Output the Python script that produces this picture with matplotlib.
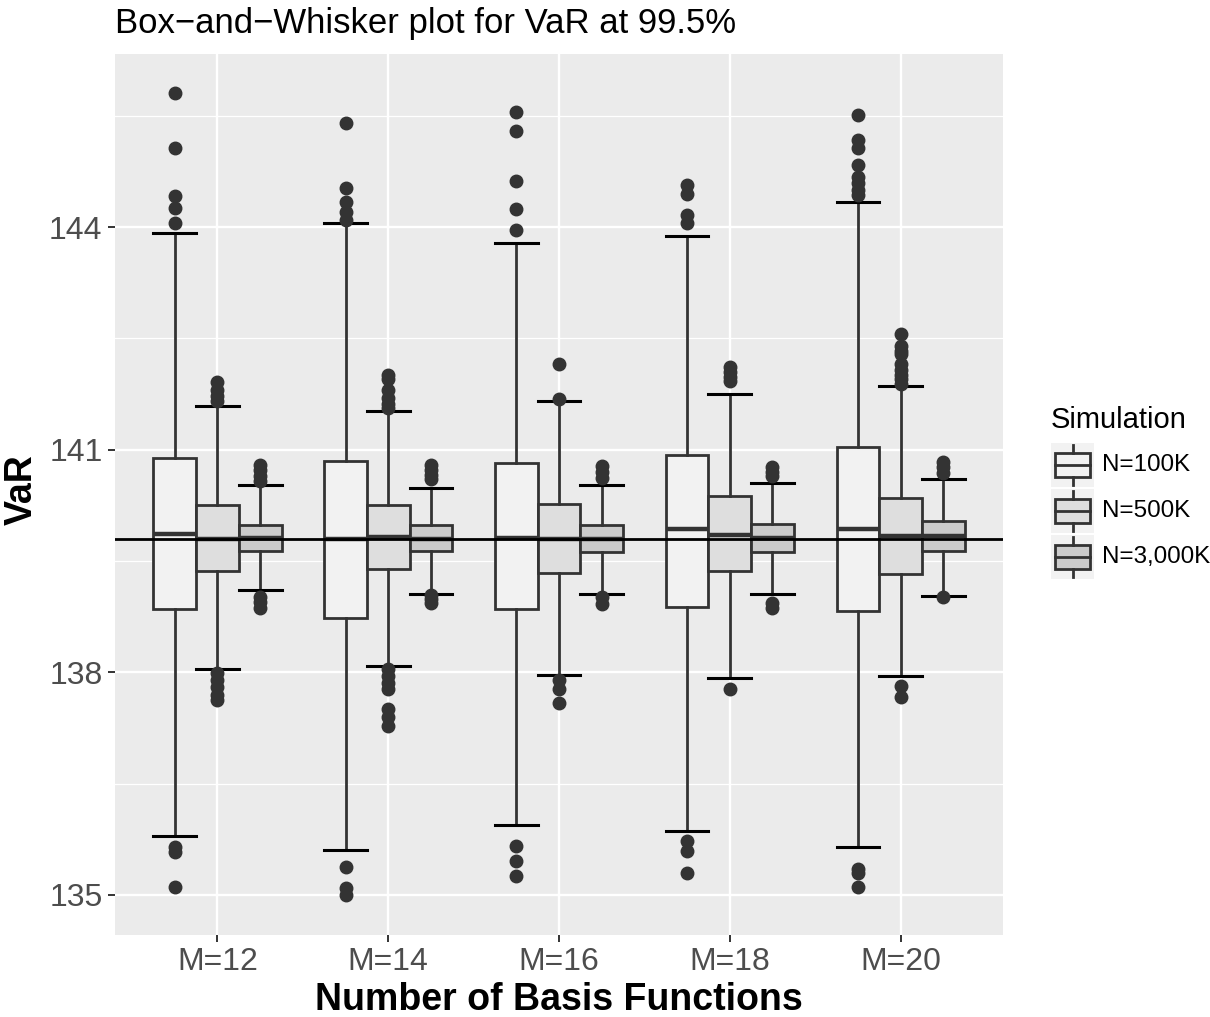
import matplotlib
matplotlib.use("Agg")
import matplotlib.pyplot as plt
from matplotlib.patches import Rectangle
from matplotlib.ticker import MultipleLocator

plt.rcParams["font.family"] = ["Liberation Sans", "DejaVu Sans"]

# data
groups = ["M=12", "M=14", "M=16", "M=18", "M=20"]
sims = ["N=100K", "N=500K", "N=3,000K"]
fills = ["#F2F2F2", "#DEDEDE", "#CBCBCB"]
ref_var = 139.80

q1_100k = [138.85, 138.73, 138.85, 138.88, 138.82]
med_100k = [139.87, 139.79, 139.81, 139.93, 139.93]
q3_100k = [140.89, 140.85, 140.82, 140.93, 141.03]
lo_100k = [135.79, 135.60, 135.94, 135.86, 135.65]
hi_100k = [143.92, 144.06, 143.78, 143.88, 144.34]
fliers_100k = [
    [145.80, 145.06, 144.42, 144.25, 144.05, 135.65, 135.58, 135.11],
    [145.40, 144.53, 144.34, 144.20, 144.09, 135.38, 135.09, 135.00],
    [145.55, 145.30, 144.62, 144.24, 143.96, 135.66, 135.46, 135.25],
    [144.57, 144.45, 144.16, 144.05, 135.73, 135.59, 135.30],
    [145.51, 145.17, 145.06, 144.84, 144.68, 144.59, 144.50, 144.43,
     135.35, 135.29, 135.11],
]

q1_500k = [139.36, 139.39, 139.34, 139.36, 139.32]
med_500k = [139.80, 139.83, 139.80, 139.85, 139.84]
q3_500k = [140.26, 140.25, 140.27, 140.37, 140.35]
lo_500k = [138.04, 138.08, 137.96, 137.92, 137.95]
hi_500k = [141.59, 141.52, 141.66, 141.75, 141.86]
fliers_500k = [
    [141.91, 141.80, 141.72, 141.66, 137.99, 137.90, 137.80, 137.70, 137.63],
    [142.00, 141.95, 141.80, 141.70, 141.62, 141.56,
     138.05, 137.95, 137.85, 137.78, 137.51, 137.40, 137.28],
    [142.15, 141.68, 137.89, 137.78, 137.59],
    [142.11, 142.05, 141.98, 141.93, 137.77],
    [142.56, 142.40, 142.33, 142.29, 142.16, 142.08, 142.00, 141.95, 141.89,
     137.81, 137.67],
]

q1_3000k = [139.63, 139.63, 139.62, 139.62, 139.64]
med_3000k = [139.81, 139.79, 139.80, 139.81, 139.84]
q3_3000k = [139.99, 139.99, 139.99, 140.00, 140.04]
lo_3000k = [139.11, 139.06, 139.06, 139.05, 139.03]
hi_3000k = [140.53, 140.48, 140.52, 140.55, 140.61]
fliers_3000k = [
    [140.80, 140.72, 140.65, 140.58, 139.02, 138.95, 138.87],
    [140.80, 140.72, 140.66, 140.60, 139.04, 138.99, 138.94],
    [140.78, 140.70, 140.62, 139.01, 138.92],
    [140.76, 140.70, 140.65, 138.94, 138.87],
    [140.83, 140.76, 140.69, 139.01],
]

series = [
    (q1_100k, med_100k, q3_100k, lo_100k, hi_100k, fliers_100k),
    (q1_500k, med_500k, q3_500k, lo_500k, hi_500k, fliers_500k),
    (q1_3000k, med_3000k, q3_3000k, lo_3000k, hi_3000k, fliers_3000k),
]

W, H = 1210, 1017
fig = plt.figure(figsize=(W / 100, H / 100), dpi=100)
ax = fig.add_axes([115 / W, 1 - 935 / H, 888 / W, 881 / H])
ax.set_facecolor("#EBEBEB")
for s in ax.spines.values():
    s.set_visible(False)

dodge = [-0.25, 0.0, 0.25]
for k, (q1, med, q3, lo, hi, fl) in enumerate(series):
    stats = []
    for i in range(len(groups)):
        stats.append(dict(q1=q1[i], med=med[i], q3=q3[i],
                          whislo=lo[i], whishi=hi[i], fliers=fl[i]))
    pos = [i + 1 + dodge[k] for i in range(len(groups))]
    ax.bxp(stats, positions=pos, widths=0.25, capwidths=0.25,
           patch_artist=True, manage_ticks=False,
           boxprops=dict(facecolor=fills[k], edgecolor="#333333", linewidth=2),
           medianprops=dict(color="#333333", linewidth=3.2, solid_capstyle="butt"),
           whiskerprops=dict(color="#333333", linewidth=2),
           capprops=dict(color="black", linewidth=2.2),
           flierprops=dict(marker="o", markerfacecolor="#333333",
                           markeredgecolor="#333333", markersize=9))

ax.axhline(ref_var, color="black", linewidth=2, zorder=10)

ax.set_xlim(0.4, 5.6)
ax.set_ylim(134.461, 146.331)
ax.set_xticks(range(1, len(groups) + 1))
ax.set_xticklabels(groups)
ax.yaxis.set_major_locator(MultipleLocator(3))
ax.set_yticks([136.5, 139.5, 142.5, 145.5], minor=True)
ax.grid(True, which="major", color="white", linewidth=1.7)
ax.grid(True, which="minor", axis="y", color="white", linewidth=0.9)
ax.set_axisbelow(True)
ax.tick_params(axis="both", which="major", labelsize=23, labelcolor="#4D4D4D",
               color="#333333", length=5, width=1.4, pad=4)
ax.tick_params(axis="y", which="minor", length=0)

fig.text(115 / W, 1 - 24 / H, "Box\u2212and\u2212Whisker plot for VaR at 99.5%",
         fontsize=25, ha="left", va="center")
fig.text(559 / W, 1 - 1000 / H, "Number of Basis Functions", fontsize=27,
         fontweight="bold", ha="center", va="center")
fig.text(22 / W, 1 - 490 / H, "VaR", fontsize=27, fontweight="bold",
         rotation=90, ha="center", va="center")

# legend drawn by hand to mimic the ggplot key glyphs
lax = fig.add_axes([1051 / W, 1 - 580 / H, 43 / W, 138 / H])
lax.set_xlim(0, 1)
lax.set_ylim(3, 0)
lax.axis("off")
for k, lab in enumerate(sims):
    lax.add_patch(Rectangle((0, k + 0.02), 1, 0.96, facecolor="#F2F2F2",
                            edgecolor="none"))
    lax.add_patch(Rectangle((0.1, k + 0.24), 0.8, 0.52, facecolor=fills[k],
                            edgecolor="#333333", linewidth=2))
    lax.plot([0.1, 0.9], [k + 0.5, k + 0.5], color="#333333", linewidth=2)
    lax.plot([0.5, 0.5], [k + 0.06, k + 0.24], color="#333333", linewidth=2)
    lax.plot([0.5, 0.5], [k + 0.76, k + 0.94], color="#333333", linewidth=2)
    fig.text(1102 / W, 1 - (465 + 46 * k) / H, lab, fontsize=17.4,
             ha="left", va="center")
fig.text(1051 / W, 1 - 420 / H, "Simulation", fontsize=21, ha="left",
         va="center")

fig.savefig("out.png", dpi=100)
